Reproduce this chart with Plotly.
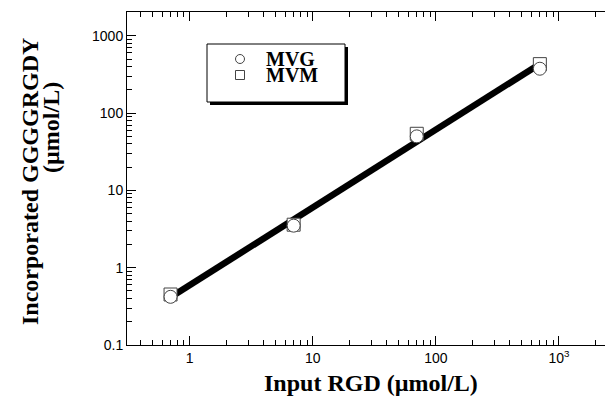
import numpy as np
import plotly.graph_objects as go

# Data
input_rgd = [0.7, 7, 70, 700]
mvg = [0.42, 3.5, 50, 375]
mvm = [0.45, 3.6, 54, 430]
series_names = ["MVG", "MVM"]
x_tickvals = [1, 10, 100, 1000]
x_ticktext = ["1", "10", "100", "10<sup>3</sup>"]
y_tickvals = [0.1, 1, 10, 100, 1000]
y_ticktext = ["0.1", "1", "10", "100", "1000"]
x_title = "Input RGD (µmol/L)"
y_title_1 = "Incorporated GGGGRGDY"
y_title_2 = "(µmol/L)"

# log-log regression through both series
lx = np.log10(input_rgd + input_rgd)
ly = np.log10(mvg + mvm)
slope, icpt = np.polyfit(lx, ly, 1)
fit_x = [input_rgd[0], input_rgd[-1]]
fit_y = [10 ** (icpt + slope * np.log10(v)) for v in fit_x]

# page has an 8px body margin; compensate so plot sits at page px 127..613 x 12..345
W, H = 605, 397
L, R, T, B = 119, 0, 4, 60
PL, PT, PW, PH = 127, 12, 486, 333

def px(x):
    return (x - PL) / PW

def py(y):
    return (PT + PH - y) / PH

fig = go.Figure()
fig.add_trace(go.Scatter(x=fit_x, y=fit_y, mode="lines",
                         line=dict(color="black", width=6.5), showlegend=False))
fig.add_trace(go.Scatter(x=input_rgd, y=mvm, mode="markers", name=series_names[1],
                         showlegend=False,
                         marker=dict(symbol="square", size=13, color="white",
                                     line=dict(color="#444", width=1))))
fig.add_trace(go.Scatter(x=input_rgd, y=mvg, mode="markers", name=series_names[0],
                         showlegend=False,
                         marker=dict(symbol="circle", size=13, color="white",
                                     line=dict(color="#444", width=1))))

# legend box with drop shadow
fig.add_shape(type="rect", xref="paper", yref="paper",
              x0=px(210), x1=px(348), y0=py(105), y1=py(47),
              fillcolor="black", line=dict(width=0), layer="below")
fig.add_shape(type="rect", xref="paper", yref="paper",
              x0=px(207), x1=px(345), y0=py(102), y1=py(44),
              fillcolor="white", line=dict(color="black", width=1), layer="below")
# legend symbols
fig.add_shape(type="circle", xref="paper", yref="paper",
              xsizemode="pixel", ysizemode="pixel",
              xanchor=px(240), yanchor=py(59), x0=-4.5, x1=4.5, y0=-4.5, y1=4.5,
              line=dict(color="#444", width=1), fillcolor="white")
fig.add_shape(type="rect", xref="paper", yref="paper",
              xsizemode="pixel", ysizemode="pixel",
              xanchor=px(240), yanchor=py(75), x0=-4.5, x1=4.5, y0=-4.5, y1=4.5,
              line=dict(color="#444", width=1), fillcolor="white")

serif = "Liberation Serif, Times New Roman, serif"
legfont = dict(family=serif, size=20, color="black", weight="bold")
titlefont = dict(family=serif, size=24, color="black", weight="bold")
tickfont = dict(family="Liberation Sans, Arial", size=14, color="black")

for name, yy in zip(series_names, [59, 75]):
    fig.add_annotation(text=name, xref="paper", yref="paper", x=px(264), y=py(yy),
                       xanchor="left", yanchor="middle", showarrow=False, font=legfont)

# axis titles
fig.add_annotation(text=x_title, xref="paper", yref="paper", x=px(371), y=py(383),
                   xanchor="center", yanchor="middle", showarrow=False, font=titlefont)
fig.add_annotation(text=y_title_1, xref="paper", yref="paper", x=px(30), y=py(182),
                   xanchor="center", yanchor="middle", textangle=-90, showarrow=False,
                   font=titlefont)
fig.add_annotation(text=y_title_2, xref="paper", yref="paper", x=px(51), y=py(128),
                   xanchor="center", yanchor="middle", textangle=-90, showarrow=False,
                   font=titlefont)

fig.update_xaxes(type="log", range=[np.log10(0.31), np.log10(2750)],
                 tickvals=x_tickvals, ticktext=x_ticktext, tickfont=tickfont,
                 ticks="inside", ticklen=9, tickwidth=1, tickcolor="black",
                 minor=dict(ticks="inside", ticklen=5, tickcolor="black", dtick="D1", showgrid=False),
                 showline=True, linecolor="black", linewidth=1, mirror="ticks",
                 showgrid=False, zeroline=False)
fig.update_yaxes(type="log", range=[-1, 3.308],
                 tickvals=y_tickvals, ticktext=y_ticktext, tickfont=tickfont,
                 ticks="inside", ticklen=9, tickwidth=1, tickcolor="black",
                 minor=dict(ticks="inside", ticklen=5, tickcolor="black", dtick="D1", showgrid=False),
                 showline=True, linecolor="black", linewidth=1, mirror=False,
                 showgrid=False, zeroline=False)

fig.update_layout(
    width=W, height=H, margin=dict(l=L, r=R, t=T, b=B),
    paper_bgcolor="white", plot_bgcolor="white", showlegend=False,
)

fig.write_html("out.html")
